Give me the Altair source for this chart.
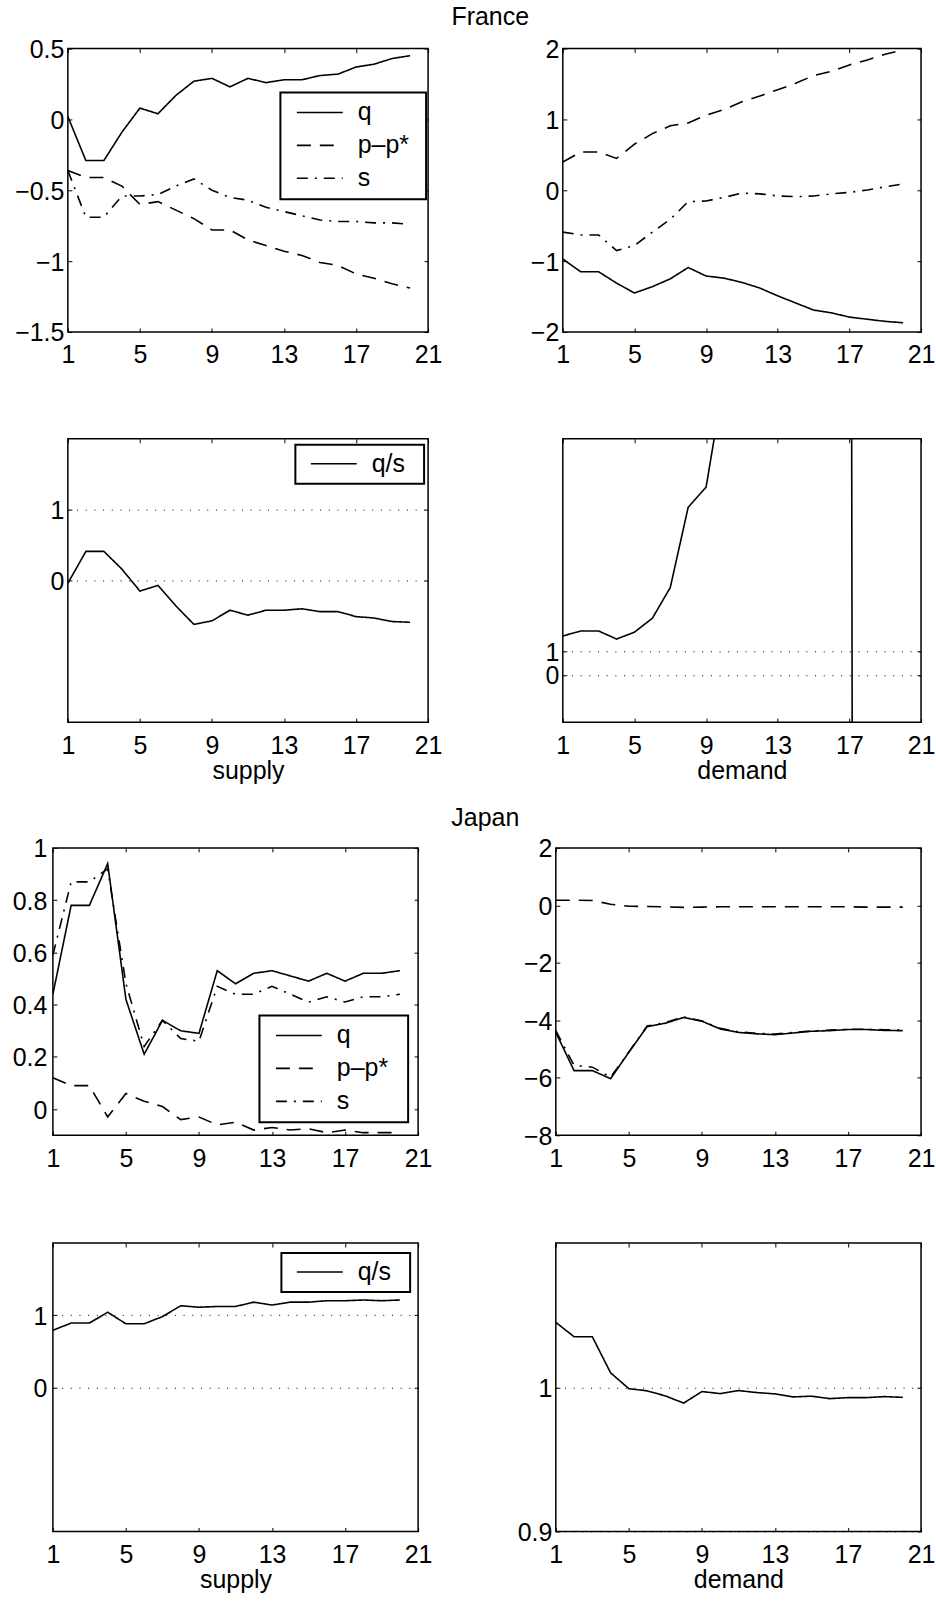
import altair as alt
import pandas as pd

# ---------------- data ----------------
periods = list(range(1, 21))

fr_sup_q = [0.02, -0.29, -0.29, -0.09, 0.08, 0.04, 0.17, 0.27, 0.29, 0.23,
            0.29, 0.26, 0.28, 0.28, 0.31, 0.32, 0.37, 0.39, 0.43, 0.45]
fr_sup_p = [-0.36, -0.41, -0.41, -0.47, -0.60, -0.58, -0.64, -0.70, -0.78, -0.78,
            -0.85, -0.89, -0.93, -0.96, -1.01, -1.03, -1.09, -1.12, -1.16, -1.19]
fr_sup_s = [-0.36, -0.69, -0.69, -0.54, -0.54, -0.53, -0.47, -0.42, -0.50, -0.55,
            -0.57, -0.62, -0.65, -0.68, -0.71, -0.72, -0.72, -0.73, -0.73, -0.74]

fr_dem_q = [-0.97, -1.15, -1.15, -1.31, -1.45, -1.36, -1.25, -1.09, -1.21, -1.24,
            -1.30, -1.38, -1.49, -1.59, -1.69, -1.73, -1.79, -1.82, -1.85, -1.87]
fr_dem_p = [0.40, 0.54, 0.54, 0.45, 0.65, 0.80, 0.91, 0.95, 1.06, 1.14,
            1.25, 1.33, 1.42, 1.51, 1.62, 1.68, 1.77, 1.84, 1.92, 1.98]
fr_dem_s = [-0.59, -0.63, -0.63, -0.85, -0.78, -0.59, -0.41, -0.16, -0.15, -0.10,
            -0.04, -0.05, -0.08, -0.09, -0.08, -0.05, -0.03, 0.005, 0.05, 0.09]

fr_sup_qs = [-0.04, 0.41, 0.41, 0.16, -0.15, -0.07, -0.36, -0.62, -0.57, -0.42,
             -0.49, -0.42, -0.42, -0.40, -0.44, -0.44, -0.51, -0.53, -0.58, -0.59]
fr_dem_qs = [1.65, 1.86, 1.86, 1.52, 1.81, 2.4, 3.7, 7.1, 7.95, 12.5,
             34, 26, 20, 19, 22, 33, 64, -360, -35, -21]

jp_sup_q = [0.44, 0.78, 0.78, 0.94, 0.42, 0.21, 0.34, 0.30, 0.29, 0.53,
            0.48, 0.52, 0.53, 0.51, 0.49, 0.52, 0.49, 0.52, 0.52, 0.53]
jp_sup_p = [0.12, 0.09, 0.09, -0.03, 0.06, 0.03, 0.01, -0.04, -0.03, -0.06,
            -0.05, -0.08, -0.07, -0.08, -0.075, -0.09, -0.08, -0.09, -0.09, -0.09]
jp_sup_s = [0.59, 0.87, 0.87, 0.92, 0.48, 0.24, 0.34, 0.27, 0.26, 0.47,
            0.44, 0.44, 0.47, 0.44, 0.41, 0.43, 0.41, 0.43, 0.43, 0.44]

jp_dem_q = [-4.42, -5.75, -5.75, -6.03, -5.11, -4.22, -4.10, -3.90, -4.03, -4.30,
            -4.42, -4.47, -4.50, -4.44, -4.38, -4.36, -4.32, -4.32, -4.35, -4.36]
jp_dem_p = [0.18, 0.18, 0.17, 0.04, -0.03, -0.04, -0.05, -0.07, -0.06, -0.05,
            -0.05, -0.05, -0.05, -0.05, -0.05, -0.05, -0.05, -0.06, -0.06, -0.06]
jp_dem_s = [-4.36, -5.57, -5.63, -5.98, -5.10, -4.20, -4.08, -3.88, -4.02, -4.28,
            -4.40, -4.45, -4.48, -4.42, -4.37, -4.34, -4.31, -4.31, -4.33, -4.34]

jp_sup_qs = [0.79, 0.89, 0.89, 1.04, 0.88, 0.88, 0.98, 1.13, 1.11, 1.12,
             1.12, 1.18, 1.14, 1.18, 1.18, 1.20, 1.20, 1.21, 1.20, 1.21]
jp_dem_qs = [1.045, 1.035, 1.035, 1.010, 0.999, 0.9975, 0.994, 0.989, 0.997, 0.9956,
             0.9977, 0.9963, 0.9954, 0.9933, 0.9938, 0.9921, 0.9928, 0.9928, 0.9935, 0.993]

x_ticks = [1, 5, 9, 13, 17, 21]
series_names = ["q", "p\u2013p*", "s"]
ratio_name = ["q/s"]

# ---------------- styling ----------------
FONT = "Liberation Sans"
FS = 25
DASHES = {"solid": [1, 0], "dash": [14, 9], "dashdot": [11, 7, 2, 7]}


def make_panel(series, ydom, yticks, w, h, ext, ypad=4, legend_cfg=None,
               xtitle=None, grid=False):
    recs = []
    for name, vals, _ in series:
        for t, v in zip(periods, vals):
            recs.append({"t": t, "v": v, "series": name})
    df = pd.DataFrame(recs)
    names = [s[0] for s in series]
    dashes = [DASHES[s[2]] for s in series]

    xs = alt.Scale(domain=[1, 21], nice=False, zero=False)
    ys = alt.Scale(domain=ydom, nice=False, zero=False)

    xkw = dict(values=x_ticks, orient="bottom", tickSize=4, offset=-4,
               labelPadding=11, domain=False, ticks=True, grid=False,
               format="d", labelFlush=False, labelOverlap=False)
    if xtitle:
        xkw.update(title=xtitle, titlePadding=0)
    else:
        xkw.update(title=None)

    ykw = dict(values=yticks, orient="left", tickSize=4, offset=-4,
               labelPadding=ypad, domain=False, ticks=True, format="~g",
               minExtent=ext, maxExtent=ext, title=None, labelOffset=1,
               labelOverlap=False, labelFlush=False, grid=grid)
    if grid:
        ykw.update(gridDash=[1, 7.7], gridColor="black", gridWidth=1,
                   gridOpacity=1)

    if legend_cfg:
        # an invisible title on the right only widens the framed box
        leg = alt.Legend(
            orient="none", legendX=legend_cfg["x"], legendY=legend_cfg["y"],
            title=".", titleOrient="right", titleOpacity=0,
            titleFont=FONT, titleFontSize=FS,
            titlePadding=legend_cfg["extra"],
            symbolType="stroke", symbolSize=2116, clipHeight=25,
            symbolStrokeColor="black", symbolStrokeWidth=1.6,
            labelFont=FONT, labelFontSize=FS, labelColor="black",
            strokeColor="black", fillColor="white",
            padding=legend_cfg["pad"], symbolOffset=8, labelOffset=14)
        dash_enc = alt.StrokeDash("series:N",
                                  scale=alt.Scale(domain=names, range=dashes),
                                  legend=leg)
    else:
        dash_enc = alt.StrokeDash("series:N",
                                  scale=alt.Scale(domain=names, range=dashes),
                                  legend=None)

    base = alt.Chart(df)
    main = base.mark_line(clip=True, color="black", strokeWidth=1.6).encode(
        x=alt.X("t:Q", scale=xs, axis=alt.Axis(**xkw)),
        y=alt.Y("v:Q", scale=ys, axis=alt.Axis(**ykw)),
        strokeDash=dash_enc,
    )
    mirror = base.mark_line(clip=True, strokeOpacity=0).encode(
        x=alt.X("t:Q", scale=xs,
                axis=alt.Axis(orient="top", values=x_ticks, labels=False,
                              domain=False, ticks=True, tickSize=4, offset=-4,
                              title=None, grid=False, minExtent=0,
                              maxExtent=0)),
        y=alt.Y("v:Q", scale=ys,
                axis=alt.Axis(orient="right", values=yticks, labels=False,
                              domain=False, ticks=True, tickSize=4, offset=-4,
                              title=None, grid=False, minExtent=0,
                              maxExtent=0)),
    )
    return alt.layer(main, mirror).resolve_axis(
        x="independent", y="independent").properties(width=w, height=h)


def indep(c):
    return c.resolve_scale(strokeDash="independent").resolve_legend(
        strokeDash="independent")


def anchor():
    # tiny invisible view whose origin fixes the row's left edge
    return alt.Chart(pd.DataFrame({"a": [0]})).mark_point(
        opacity=0, size=0, strokeWidth=0).properties(
        width=1, height=1,
        view=alt.ViewBackground(strokeOpacity=0, strokeWidth=0))


p1 = make_panel([("q", fr_sup_q, "solid"), (series_names[1], fr_sup_p, "dash"),
                 ("s", fr_sup_s, "dashdot")],
                [-1.5, 0.5], [-1.5, -1, -0.5, 0, 0.5], 361, 284, 71,
                legend_cfg={"x": 213, "y": 44, "pad": 7.5, "extra": 2.5})
p2 = make_panel([("q", fr_dem_q, "solid"), (series_names[1], fr_dem_p, "dash"),
                 ("s", fr_dem_s, "dashdot")],
                [-2, 2], [-2, -1, 0, 1, 2], 359, 284, 60)
p3 = make_panel([(ratio_name[0], fr_sup_qs, "solid")],
                [-2, 2], [0, 1], 361, 284, 71,
                legend_cfg={"x": 228, "y": 6, "pad": 6.5, "extra": 5.5},
                xtitle="supply", grid=True)
p4 = make_panel([(ratio_name[0], fr_dem_qs, "solid")],
                [-2, 10], [0, 1], 359, 284, 60,
                xtitle="demand", grid=True)

p5 = make_panel([("q", jp_sup_q, "solid"), (series_names[1], jp_sup_p, "dash"),
                 ("s", jp_sup_s, "dashdot")],
                [-0.1, 1], [0, 0.2, 0.4, 0.6, 0.8, 1], 366, 288, 56, ypad=6,
                legend_cfg={"x": 207, "y": 168, "pad": 7.5, "extra": 5.5})
p6 = make_panel([("q", jp_dem_q, "solid"), (series_names[1], jp_dem_p, "dash"),
                 ("s", jp_dem_s, "dashdot")],
                [-8, 2], [-8, -6, -4, -2, 0, 2], 366, 288, 60)
p7 = make_panel([(ratio_name[0], jp_sup_qs, "solid")],
                [-2, 2], [0, 1], 366, 289, 56, ypad=6,
                legend_cfg={"x": 229, "y": 10, "pad": 6.5, "extra": 5.5},
                xtitle="supply", grid=True)
p8 = make_panel([(ratio_name[0], jp_dem_qs, "solid")],
                [0.9, 1.1], [0.9, 1], 366, 289, 60,
                xtitle="demand", grid=True)


def row(a, b, gap):
    left = indep(alt.concat(anchor(), a, spacing=0, align="none"))
    return indep(alt.concat(left, b, spacing=gap, align="none"))


row1 = row(p1, p2, 63)
row2 = row(p3, p4, 63)
row3 = row(p5, p6, 66)
row4 = row(p7, p8, 66)

france = indep(alt.concat(row1, row2, columns=1, spacing=68, align="none",
                          title=alt.TitleParams("France", anchor="middle",
                                                offset=7, dx=23)))
japan = indep(alt.concat(row3, row4, columns=1, spacing=69, align="none",
                         title=alt.TitleParams("Japan", anchor="middle",
                                               offset=5, dx=18)))

chart = indep(alt.concat(france, japan, columns=1, spacing=22,
                         align="none")).properties(
    background="white",
    padding={"left": -1, "top": 3, "right": 0, "bottom": 0},
).configure_view(
    stroke="black", strokeWidth=1.5
).configure_axis(
    labelFont=FONT, labelFontSize=FS, labelColor="black",
    titleFont=FONT, titleFontSize=FS, titleFontWeight="normal",
    titleColor="black", tickColor="black", tickWidth=1,
).configure_title(
    font=FONT, fontSize=FS, fontWeight="normal", color="black"
).configure_legend(
    strokeWidth=2, rowPadding=7
)

chart.save("out.html", embed_options={"renderer": "svg", "actions": False})
